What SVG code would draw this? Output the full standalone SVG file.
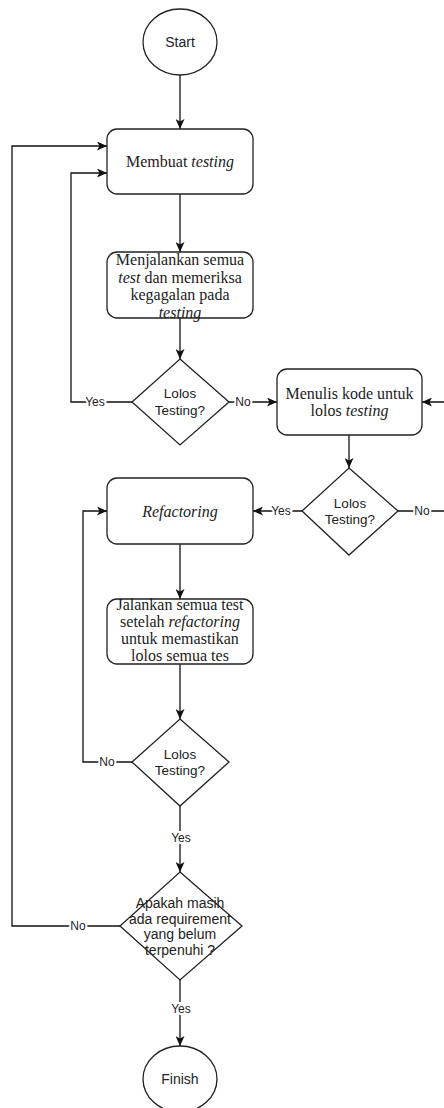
<svg xmlns="http://www.w3.org/2000/svg" width="444" height="1108" viewBox="0 0 444 1108">
<style>
.shape{fill:#fff;stroke:#222;stroke-width:1.3}
.edge{fill:none;stroke:#111;stroke-width:1.3}
.serif{font-family:"Liberation Serif","Times New Roman",serif;font-size:16px;fill:#222;text-anchor:middle}
.sans{font-family:"Liberation Sans",Arial,sans-serif;font-size:13.5px;fill:#222;text-anchor:middle}
.lbl{font-family:"Liberation Sans",Arial,sans-serif;font-size:12px;fill:#222;text-anchor:middle;dominant-baseline:central;stroke:#fff;stroke-width:4;paint-order:stroke}
.it{font-style:italic}
</style>
<defs>
<marker id="arr" markerUnits="userSpaceOnUse" markerWidth="11" markerHeight="9" refX="10" refY="4.5" orient="auto">
<path d="M0,0 L10,4.5 L0,9 L2.5,4.5 Z" fill="#111"/>
</marker>
</defs>
<rect width="444" height="1108" fill="#fff"/>
<g id="connectors">
<path class="edge" d="M180,75 V129" marker-end="url(#arr)"/>
<path class="edge" d="M180,194 V252" marker-end="url(#arr)"/>
<path class="edge" d="M180,318 V359" marker-end="url(#arr)"/>
<path class="edge" d="M132,402 H71 V173 H107" marker-end="url(#arr)"/>
<path class="edge" d="M229,402 H277" marker-end="url(#arr)"/>
<path class="edge" d="M349,435 V468" marker-end="url(#arr)"/>
<path class="edge" d="M302,511 H253" marker-end="url(#arr)"/>
<path class="edge" d="M398,511 H452 V402 H422" marker-end="url(#arr)"/>
<path class="edge" d="M180,544 V599" marker-end="url(#arr)"/>
<path class="edge" d="M180,664 V719" marker-end="url(#arr)"/>
<path class="edge" d="M132,762 H83 V511 H107" marker-end="url(#arr)"/>
<path class="edge" d="M180,806 V872" marker-end="url(#arr)"/>
<path class="edge" d="M120,926 H12 V146 H107" marker-end="url(#arr)"/>
<path class="edge" d="M180,980 V1046" marker-end="url(#arr)"/>
<text class="lbl" x="95" y="402">Yes</text>
<text class="lbl" x="243" y="402">No</text>
<text class="lbl" x="281" y="511">Yes</text>
<text class="lbl" x="422" y="511">No</text>
<text class="lbl" x="107" y="762">No</text>
<text class="lbl" x="181" y="838">Yes</text>
<text class="lbl" x="78" y="926">No</text>
<text class="lbl" x="181" y="1009">Yes</text>
</g>
<g id="start">
<ellipse class="shape" cx="180" cy="42" rx="37" ry="33"/>
<text class="sans" x="180" y="47" style="font-size:14px">Start</text>
</g>
<g id="membuat-testing">
<rect class="shape" x="107" y="129" width="146" height="65" rx="10"/>
<text class="serif" x="180" y="167">Membuat <tspan class="it">testing</tspan></text>
</g>
<g id="menjalankan">
<rect class="shape" x="107" y="252" width="146" height="66" rx="10"/>
<text class="serif" x="180" y="265">Menjalankan semua</text>
<text class="serif" x="180" y="282.5"><tspan class="it">test</tspan> dan memeriksa</text>
<text class="serif" x="180" y="300">kegagalan pada</text>
<text class="serif it" x="180" y="317.5">testing</text>
</g>
<g id="lolos1">
<polygon class="shape" points="180,359 229,402 180,445 132,402"/>
<text class="sans" x="180" y="398">Lolos</text>
<text class="sans" x="180" y="415">Testing?</text>
</g>
<g id="menulis-kode">
<rect class="shape" x="277" y="369" width="145" height="66" rx="10"/>
<text class="serif" x="349.5" y="398.5">Menulis kode untuk</text>
<text class="serif" x="349.5" y="416">lolos <tspan class="it">testing</tspan></text>
</g>
<g id="lolos2">
<polygon class="shape" points="349,468 398,511 349,555 302,511"/>
<text class="sans" x="350" y="507.5">Lolos</text>
<text class="sans" x="350" y="524">Testing?</text>
</g>
<g id="refactoring">
<rect class="shape" x="107" y="478" width="146" height="66" rx="10"/>
<text class="serif it" x="180" y="516.5">Refactoring</text>
</g>
<g id="jalankan">
<rect class="shape" x="107" y="599" width="146" height="65" rx="10"/>
<text class="serif" x="180" y="610">Jalankan semua test</text>
<text class="serif" x="180" y="627">setelah <tspan class="it">refactoring</tspan></text>
<text class="serif" x="180" y="644">untuk memastikan</text>
<text class="serif" x="180" y="661">lolos semua tes</text>
</g>
<g id="lolos3">
<polygon class="shape" points="180,719 229,762 180,806 132,762"/>
<text class="sans" x="180" y="759">Lolos</text>
<text class="sans" x="180" y="775">Testing?</text>
</g>
<g id="requirement">
<polygon class="shape" points="180,872 242,926 180,980 120,926"/>
<text class="sans" x="180" y="908" style="font-size:14px">Apakah masih</text>
<text class="sans" x="180" y="923.5" style="font-size:14px">ada requirement</text>
<text class="sans" x="180" y="939" style="font-size:14px">yang belum</text>
<text class="sans" x="180" y="954.5" style="font-size:14px">terpenuhi ?</text>
</g>
<g id="finish">
<ellipse class="shape" cx="180" cy="1079" rx="37" ry="33"/>
<text class="sans" x="180" y="1084" style="font-size:14px">Finish</text>
</g>
</svg>
